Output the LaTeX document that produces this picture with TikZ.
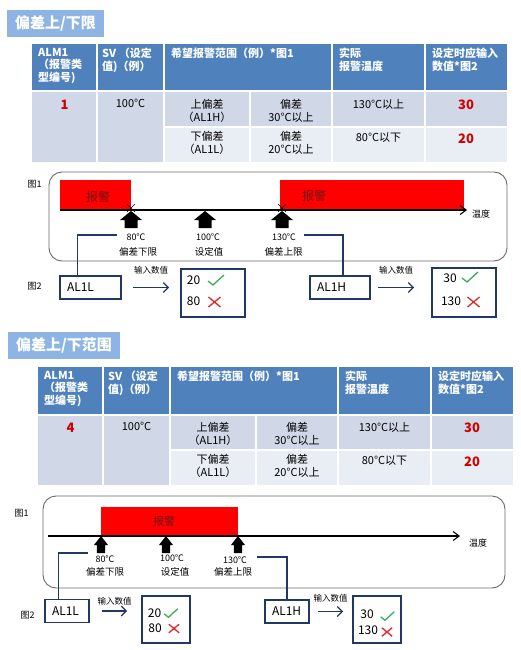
\documentclass[tikz,border=0pt]{standalone}
\usepackage{fontspec}
\setmainfont{Noto Sans CJK SC}
\usepackage{tikz}
\usetikzlibrary{positioning,arrows.meta}
\definecolor{HeadBlue}{HTML}{4F81BD}
\definecolor{TitleBlue}{HTML}{8DB4E2}
\definecolor{RowDark}{HTML}{D0D8E8}
\definecolor{RowLight}{HTML}{E9EDF4}
\definecolor{Navy}{HTML}{1F3864}
\definecolor{FrameGray}{HTML}{6A6A6A}
\definecolor{OkGreen}{HTML}{3DAA5C}
\definecolor{NoRed}{HTML}{E0282C}
\definecolor{NumRed}{HTML}{D00000}
\definecolor{BarText}{HTML}{6E1414}

\begin{document}
\begin{tikzpicture}[x=1pt,y=-1pt,every node/.style={inner sep=0pt},
  title/.style={fill=TitleBlue,text=white,font=\fontsize{15}{17}\selectfont\bfseries,
    inner xsep=8pt,minimum height=27pt,anchor=west},
  head/.style={anchor=north west,align=left,text=white,font=\fontsize{11}{12.5}\selectfont\bfseries},
  body/.style={anchor=north,align=center,font=\fontsize{11}{13.5}\selectfont},
  num/.style={anchor=north,text=NumRed,font=\fontsize{13}{15}\selectfont\bfseries},
  frame/.style={draw=FrameGray,line width=0.9pt,rounded corners=13pt},
  bartext/.style={text=BarText,font=\fontsize{12}{14}\selectfont},
  axis/.style={line width=1.1pt,-{Straight Barb[length=6pt,width=9pt]}},
  figlabel/.style={font=\fontsize{9}{10}\selectfont},
  degree/.style={font=\fontsize{9}{10}\selectfont},
  limname/.style={font=\fontsize{9.5}{11}\selectfont},
  setbox/.style={draw=Navy,line width=1.8pt,inner xsep=7pt,align=left,minimum height=23pt,
    font=\fontsize{12}{14}\selectfont},
  resbox/.style={draw=Navy,line width=1.8pt},
  digits/.style={font=\fontsize{12}{14}\selectfont},
  conn/.style={draw=Navy,line width=1.2pt},
  feed/.style={draw=Navy,line width=1.2pt,-{Straight Barb[length=5pt,width=10pt]}},
  feedtext/.style={font=\fontsize{8.5}{10}\selectfont},
  okmark/.pic={\draw[OkGreen,line width=1.3pt] (-8,1) -- (-3,5) -- (8,-5);},
  nomark/.pic={\draw[NoRed,line width=1.3pt] (-6,-5) -- (6,5) (-6,5) -- (6,-5);},
  uparr/.pic={\fill (-11,9) -- (0,0) -- (11,9) -- (6.5,9) -- (6.5,17) -- (-6.5,17) -- (-6.5,9) -- cycle;}]
  \fill[white] (0,0) rectangle (520,650);
  \useasboundingbox (0,0) rectangle (520,650);

  \node[title] (ttl1) at (7,23.5) {偏差上/下限};
  \node[title] (ttl2) at (8,345.5) {偏差上/下范围};

  \foreach \t/\sx/\sy/\alm in {a/0/0/1,b/6/323/4}{
  \begin{scope}[shift={(\sx,\sy)}]
  \fill[HeadBlue] (32,44) rectangle (507,90.5);
  \fill[RowDark] (32,92.5) rectangle (507,127);
  \fill[RowDark] (32,127) rectangle (164,162);
  \fill[RowLight] (164,127) rectangle (507,162);
  \foreach \cx in {97,164,332,425} {\draw[white,line width=2pt] (\cx,44) -- (\cx,162);}
  \draw[white,line width=2pt] (250,92.5) -- (250,162) (164,127) -- (507,127);
  \node[head] (\t-h1) at (38,48) {ALM1\\（报警类\\型编号)};
  \node[head] (\t-h2) at (102,48) {SV （设定\\值)（例）};
  \node[head] (\t-h3) at (171,48) {希望报警范围（例）*图1};
  \node[head] (\t-h4) at (339,48) {实际\\报警温度};
  \node[head] (\t-h5) at (432,48) {设定时应输入\\数值*图2};
  \node[num] (\t-alm) at (64.5,100) {\alm};
  \node[body] (\t-sv) at (130.5,99) {100°C};
  \node[body] (\t-up) at (207,99) {上偏差\\（AL1H）};
  \node[body] (\t-upd) at (291,99) {偏差\\30°C以上};
  \node[body] (\t-upa) at (378.5,99) {130°C以上};
  \node[num] (\t-upv) at (466,100) {30};
  \node[body] (\t-lo) at (207,131) {下偏差\\（AL1L）};
  \node[body] (\t-lod) at (291,131) {偏差\\20°C以上};
  \node[body] (\t-loa) at (378.5,132.5) {80°C以下};
  \node[num] (\t-lov) at (466,134) {20};
  \end{scope}
  }

  \draw[frame] (49,172) rectangle (507,261);
  \fill[red] (60,180) rectangle (131,211);
  \fill[red] (280,180) rectangle (464,211);
  \node[bartext] (alarm1) at (98,197) {报警};
  \node[bartext] (alarm2) at (314,196) {报警};
  \node[figlabel] (fig1) at (34.5,184) {图1};
  \node[figlabel,anchor=west] (temp1) at (472,214) {温度};
  \coordinate (start1) at (60,210);
  \draw[axis] (start1) -- ([xshift=-5pt]temp1.west |- start1);
  \foreach \px in {131,205,282} {\pic at (\px,211) {uparr};}
  \foreach \px in {131,282} {\draw[line width=0.6pt] (\px-4,204) -- (\px+4,212) (\px-4,212) -- (\px+4,204);}
  \node[degree] (l80) at (136,237) {80℃};
  \node[limname] (n80) at (138,252) {偏差下限};
  \node[degree] (l100) at (208,237) {100℃};
  \node[limname] (n100) at (209,252) {设定值};
  \node[degree] (l130) at (284,237) {130℃};
  \node[limname] (n130) at (283.5,252) {偏差上限};

  \node[figlabel] (fig2) at (34.5,286) {图2};
  \node[setbox,text width=47pt] (al1l) at (90.5,287.5) {AL1L};
  \node[setbox,text width=46pt] (al1h) at (340,287.5) {AL1H};
  \draw[conn] ([shift={(-9pt,2pt)}]l80.west) -| ([xshift=18pt]al1l.north west);
  \draw[conn] ([shift={(8pt,2pt)}]l130.east) -| ([xshift=3pt]al1h.north);
  \node[resbox,minimum width=64pt,minimum height=48pt] (res1) at (213,293) {};
  \node[resbox,minimum width=64pt,minimum height=49pt] (res2) at (464,292.5) {};
  \draw[feed] ([xshift=11pt]al1l.east) -- ([xshift=-11pt]al1l.east -| res1.west)
    node[feedtext,midway,above=13pt] (in1) {输入数值};
  \draw[feed] ([xshift=7pt]al1h.east) -- ([xshift=-17pt]al1h.east -| res2.west)
    node[feedtext,midway,above=13pt] (in2) {输入数值};
  \node[digits] (v20) at (193.5,280) {20};
  \node[digits] (v80) at (193.5,301) {80};
  \node[digits] (v30) at (450,278) {30};
  \node[digits] (v130) at (451,301) {130};
  \pic at (216,280) {okmark};
  \pic at (214.5,302) {nomark};
  \pic at (470,277) {okmark};
  \pic at (473.5,302) {nomark};

  \draw[frame] (43,496) rectangle (505,588);
  \fill[red] (101,507) rectangle (238,535);
  \node[bartext,font=\fontsize{11}{13}\selectfont] (alarm3) at (164,521) {报警};
  \node[figlabel] (fig1b) at (21.5,513) {图1};
  \node[figlabel,anchor=west] (temp2) at (469,543.5) {温度};
  \coordinate (start2) at (48,536);
  \draw[axis] (start2) -- ([xshift=-9pt]temp2.west |- start2);
  \foreach \px in {101,166,238} {\pic[xscale=0.64] at (\px,536) {uparr};}
  \node[degree] (l80b) at (105,559) {80℃};
  \node[limname] (n80b) at (105,572) {偏差下限};
  \node[degree] (l100b) at (172,558) {100℃};
  \node[limname] (n100b) at (175,572) {设定值};
  \node[degree] (l130b) at (235,560) {130℃};
  \node[limname] (n130b) at (233,572) {偏差上限};

  \node[figlabel] (fig2b) at (27.5,615) {图2};
  \node[setbox,text width=30pt] (al1lb) at (67,611) {AL1L};
  \node[setbox,text width=30pt] (al1hb) at (287,611.5) {AL1H};
  \draw[conn] ([shift={(-7pt,6pt)}]l80b.west) -| ([xshift=14pt]al1lb.north west);
  \draw[conn] ([shift={(10pt,3pt)}]l130b.east) -| (al1hb.north);
  \node[resbox,minimum width=48pt,minimum height=47pt] (res3) at (166,619.5) {};
  \node[resbox,minimum width=48pt,minimum height=47pt] (res4) at (377,619.5) {};
  \draw[feed] ([xshift=12pt]al1lb.east) -- ([xshift=-14pt]al1lb.east -| res3.west)
    node[feedtext,midway,above=5pt] (in3) {输入数值};
  \draw[feed] ([xshift=8pt]al1hb.east) -- ([xshift=-9pt]al1hb.east -| res4.west)
    node[feedtext,midway,above=9pt] (in4) {输入数值};
  \node[digits] (w20) at (154.5,613) {20};
  \node[digits] (w80) at (155,628) {80};
  \node[digits] (w30) at (367,614) {30};
  \node[digits] (w130) at (368,630) {130};
  \pic[scale=0.85] at (171,613) {okmark};
  \pic[scale=0.85] at (174,628.5) {nomark};
  \pic[scale=0.85] at (387.5,616) {okmark};
  \pic[scale=0.85] at (387,632) {nomark};
\end{tikzpicture}
\end{document}
